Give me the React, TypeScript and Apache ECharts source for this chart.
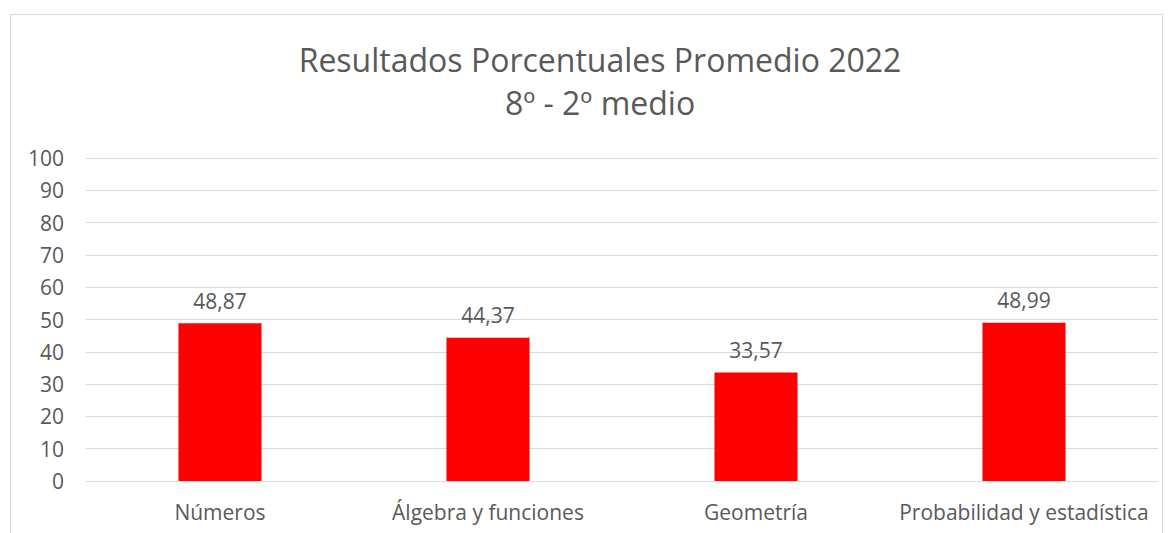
import React, { useEffect, useRef } from "react";
import * as echarts from "echarts";

const categories = ["Números", "Álgebra y funciones", "Geometría", "Probabilidad y estadística"];
const values = [48.87, 44.37, 33.57, 48.99];
const titleLines = ["Resultados Porcentuales Promedio 2022", "8º - 2º medio"];

const FONT = "'Open Sans', 'Noto Sans', sans-serif";
const GREY = "#595959";

export default function App() {
  const ref = useRef<HTMLDivElement>(null);
  useEffect(() => {
    if (!ref.current) return;
    const chart = echarts.init(ref.current, null, { renderer: "svg" });
    chart.setOption({
      animation: false,
      backgroundColor: "#ffffff",
      title: {
        text: titleLines.join("\n"),
        left: 595,
        top: 33,
        textAlign: "center",
        textStyle: { fontFamily: FONT, fontSize: 32, fontWeight: "normal", color: GREY, lineHeight: 43 },
      },
      graphic: [
        {
          type: "rect",
          shape: { x: 10.5, y: 14.5, width: 1152, height: 560 },
          style: { fill: "none", stroke: "#d9d9d9", lineWidth: 1 },
          silent: true,
        },
      ],
      grid: { left: 86, right: 13, top: 158, bottom: 52, containLabel: false },
      xAxis: {
        type: "category",
        data: categories,
        axisLine: { lineStyle: { color: "#d9d9d9" } },
        axisTick: { show: false },
        axisLabel: { fontFamily: FONT, fontSize: 21, color: GREY, margin: 20, interval: 0, hideOverlap: false },
      },
      yAxis: {
        type: "value",
        min: 0,
        max: 100,
        interval: 10,
        axisLine: { show: false },
        axisTick: { show: false },
        splitLine: { lineStyle: { color: "#d9d9d9", width: 1 } },
        axisLabel: { fontFamily: FONT, fontSize: 21, color: GREY, margin: 22 },
      },
      series: [
        {
          type: "bar",
          data: values,
          barWidth: "31%",
          itemStyle: { color: "#ff0000" },
          label: {
            show: true,
            position: "top",
            distance: 12,
            fontFamily: FONT,
            fontSize: 21,
            color: GREY,
            formatter: (p: any) => String(p.value.toFixed(2)).replace(".", ","),
          },
        },
      ],
    });
    return () => chart.dispose();
  }, []);
  return (
    <div
      ref={ref}
      style={{ position: "fixed", left: 0, top: 0, width: 1171, height: 533 }}
    />
  );
}
